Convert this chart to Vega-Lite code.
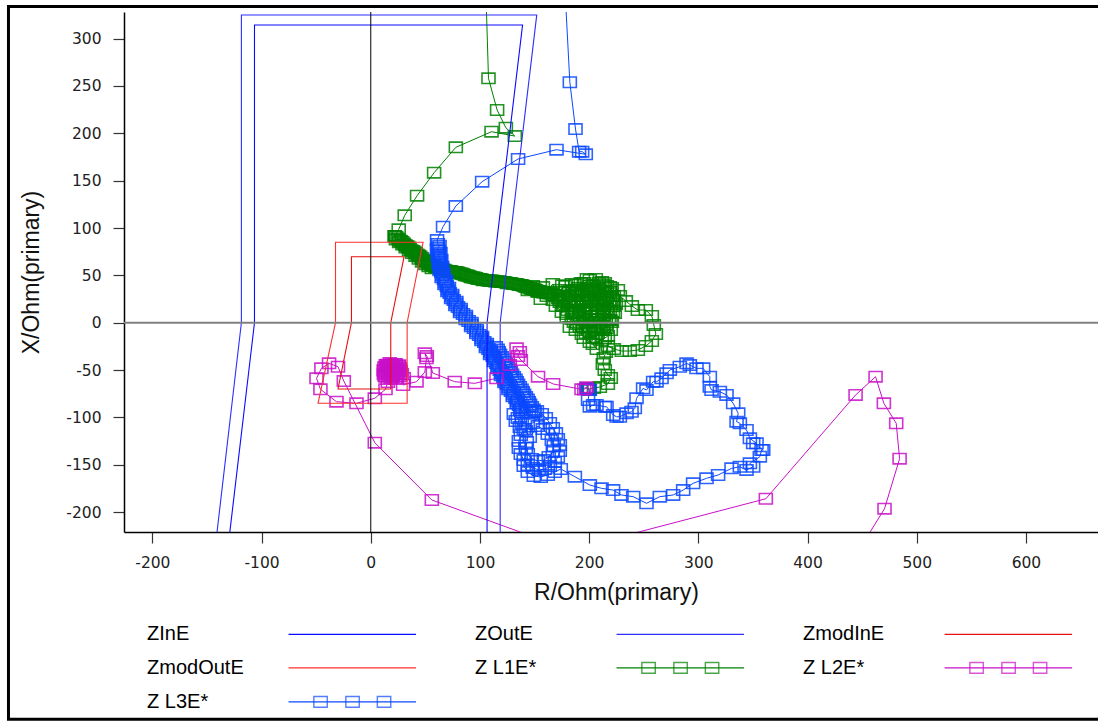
{
  "$schema": "https://vega.github.io/schema/vega-lite/v6.json",
  "width": 974,
  "height": 520,
  "autosize": {"type": "none"},
  "padding": {"left": 124, "top": 12, "right": 0, "bottom": 190},
  "background": "white",
  "config": {"view": {"stroke": null}},
  "datasets": {
    "bounds": [
      {"s":"ZInE","r":-130,"x":-230},{"s":"ZInE","r":-106.5,"x":0},{"s":"ZInE","r":-106.5,"x":314.4},{"s":"ZInE","r":139,"x":314.4},{"s":"ZInE","r":106.5,"x":0},{"s":"ZInE","r":106.5,"x":-230},
      {"s":"ZOutE","r":-141.7,"x":-230},{"s":"ZOutE","r":-118.5,"x":0},{"s":"ZOutE","r":-118.5,"x":325},{"s":"ZOutE","r":152,"x":325},{"s":"ZOutE","r":118.5,"x":0},{"s":"ZOutE","r":118.5,"x":-230},
      {"s":"ZmodInE","r":-17.7,"x":0},{"s":"ZmodInE","r":-17.7,"x":69.7},{"s":"ZmodInE","r":30.5,"x":69.7},{"s":"ZmodInE","r":18.3,"x":0},{"s":"ZmodInE","r":18.3,"x":-70},{"s":"ZmodInE","r":-30,"x":-70},{"s":"ZmodInE","r":-17.7,"x":0},
      {"s":"ZmodOutE","r":-32.3,"x":0},{"s":"ZmodOutE","r":-32.3,"x":84.9},{"s":"ZmodOutE","r":47.9,"x":84.9},{"s":"ZmodOutE","r":33.3,"x":0},{"s":"ZmodOutE","r":33.3,"x":-85.1},{"s":"ZmodOutE","r":-48.3,"x":-85.1},{"s":"ZmodOutE","r":-32.3,"x":0}
    ],
    "traj": [
      {"s":"Z L1E*","r":105.8,"x":334.5},{"s":"Z L1E*","r":107.8,"x":258.1},{"s":"Z L1E*","r":115.7,"x":224.6},{"s":"Z L1E*","r":123.7,"x":205.9},{"s":"Z L1E*","r":131.9,"x":197.1},{"s":"Z L1E*","r":110.6,"x":201.7},{"s":"Z L1E*","r":77.9,"x":185.2},{"s":"Z L1E*","r":58.0,"x":158.4},{"s":"Z L1E*","r":42.4,"x":134.1},{"s":"Z L1E*","r":31.1,"x":113.4},{"s":"Z L1E*","r":25.6,"x":98.6},
      {"s":"Z L1E*","r":22.0,"x":91.6},{"s":"Z L1E*","r":23.0,"x":88.0},{"s":"Z L1E*","r":26.0,"x":85.0},{"s":"Z L1E*","r":29.0,"x":82.5},{"s":"Z L1E*","r":32.0,"x":79.5},{"s":"Z L1E*","r":35.0,"x":76.5},{"s":"Z L1E*","r":38.0,"x":73.5},{"s":"Z L1E*","r":41.0,"x":70.5},{"s":"Z L1E*","r":44.0,"x":67.5},{"s":"Z L1E*","r":47.0,"x":64.5},{"s":"Z L1E*","r":50.0,"x":61.8},{"s":"Z L1E*","r":53.0,"x":59.5},{"s":"Z L1E*","r":56.0,"x":57.5},{"s":"Z L1E*","r":22.0,"x":91.6},
      {"s":"Z L1E*","r":23.3,"x":90.6},{"s":"Z L1E*","r":24.7,"x":88.9},{"s":"Z L1E*","r":26.1,"x":87.2},{"s":"Z L1E*","r":27.5,"x":86.3},{"s":"Z L1E*","r":28.8,"x":85.3},{"s":"Z L1E*","r":30.2,"x":83.6},{"s":"Z L1E*","r":31.6,"x":82.0},{"s":"Z L1E*","r":33.0,"x":81.0},{"s":"Z L1E*","r":34.3,"x":80.1},{"s":"Z L1E*","r":35.7,"x":78.4},{"s":"Z L1E*","r":37.1,"x":76.6},{"s":"Z L1E*","r":38.5,"x":75.7},{"s":"Z L1E*","r":39.8,"x":75.0},{"s":"Z L1E*","r":41.2,"x":73.6},{"s":"Z L1E*","r":42.6,"x":72.0},{"s":"Z L1E*","r":44.0,"x":71.0},{"s":"Z L1E*","r":45.3,"x":70.0},{"s":"Z L1E*","r":46.7,"x":68.3},{"s":"Z L1E*","r":48.1,"x":66.6},{"s":"Z L1E*","r":49.5,"x":65.7},{"s":"Z L1E*","r":50.8,"x":64.7},{"s":"Z L1E*","r":52.2,"x":63.0},{"s":"Z L1E*","r":53.6,"x":61.8},{"s":"Z L1E*","r":55.0,"x":61.5},{"s":"Z L1E*","r":56.3,"x":61.0},{"s":"Z L1E*","r":57.7,"x":59.9},{"s":"Z L1E*","r":59.1,"x":58.8},{"s":"Z L1E*","r":60.5,"x":58.3},{"s":"Z L1E*","r":61.8,"x":58.1},{"s":"Z L1E*","r":63.2,"x":57.2},{"s":"Z L1E*","r":64.6,"x":56.3},{"s":"Z L1E*","r":66.0,"x":56.2},{"s":"Z L1E*","r":67.3,"x":56.0},{"s":"Z L1E*","r":68.7,"x":55.1},{"s":"Z L1E*","r":70.0,"x":54.5},{"s":"Z L1E*","r":71.4,"x":54.6},{"s":"Z L1E*","r":72.8,"x":54.7},{"s":"Z L1E*","r":74.2,"x":54.1},{"s":"Z L1E*","r":75.5,"x":53.4},{"s":"Z L1E*","r":76.9,"x":53.5},{"s":"Z L1E*","r":78.3,"x":53.6},{"s":"Z L1E*","r":79.7,"x":53.0},{"s":"Z L1E*","r":81.0,"x":52.1},{"s":"Z L1E*","r":82.4,"x":52.0},{"s":"Z L1E*","r":83.8,"x":51.8},{"s":"Z L1E*","r":85.2,"x":50.9},{"s":"Z L1E*","r":86.5,"x":50.0},{"s":"Z L1E*","r":87.9,"x":49.8},{"s":"Z L1E*","r":89.3,"x":49.6},{"s":"Z L1E*","r":90.7,"x":48.8},{"s":"Z L1E*","r":92.0,"x":47.9},{"s":"Z L1E*","r":93.4,"x":47.7},{"s":"Z L1E*","r":94.8,"x":47.8},{"s":"Z L1E*","r":96.2,"x":47.2},{"s":"Z L1E*","r":97.5,"x":46.3},{"s":"Z L1E*","r":98.9,"x":46.1},{"s":"Z L1E*","r":100.3,"x":46.2},{"s":"Z L1E*","r":101.7,"x":45.6},{"s":"Z L1E*","r":103.0,"x":44.9},{"s":"Z L1E*","r":104.4,"x":45.1},{"s":"Z L1E*","r":105.8,"x":45.2},{"s":"Z L1E*","r":107.2,"x":44.6},{"s":"Z L1E*","r":108.5,"x":44.2},{"s":"Z L1E*","r":109.9,"x":44.6},{"s":"Z L1E*","r":111.3,"x":44.7},{"s":"Z L1E*","r":112.7,"x":44.0},{"s":"Z L1E*","r":114.0,"x":43.4},{"s":"Z L1E*","r":115.4,"x":43.5},{"s":"Z L1E*","r":116.8,"x":43.9},{"s":"Z L1E*","r":118.2,"x":43.5},{"s":"Z L1E*","r":119.5,"x":42.9},{"s":"Z L1E*","r":120.9,"x":43.0},{"s":"Z L1E*","r":122.3,"x":43.1},{"s":"Z L1E*","r":123.7,"x":42.5},{"s":"Z L1E*","r":125.0,"x":41.8},{"s":"Z L1E*","r":126.4,"x":41.9},{"s":"Z L1E*","r":127.8,"x":42.0},{"s":"Z L1E*","r":129.2,"x":41.4},{"s":"Z L1E*","r":130.5,"x":40.8},{"s":"Z L1E*","r":131.9,"x":40.9},{"s":"Z L1E*","r":133.3,"x":41.0},{"s":"Z L1E*","r":134.7,"x":40.3},{"s":"Z L1E*","r":136.0,"x":39.7},{"s":"Z L1E*","r":137.4,"x":39.8},{"s":"Z L1E*","r":138.8,"x":39.6},{"s":"Z L1E*","r":140.1,"x":38.8},{"s":"Z L1E*","r":141.5,"x":37.9},{"s":"Z L1E*","r":142.9,"x":37.7},{"s":"Z L1E*","r":144.3,"x":37.4},{"s":"Z L1E*","r":145.6,"x":36.6},{"s":"Z L1E*","r":147.0,"x":35.8},{"s":"Z L1E*","r":148.4,"x":35.6},{"s":"Z L1E*","r":149.8,"x":35.3},{"s":"Z L1E*","r":151.1,"x":34.5},{"s":"Z L1E*","r":152.5,"x":33.7},{"s":"Z L1E*","r":153.9,"x":33.5},{"s":"Z L1E*","r":155.3,"x":33.2},{"s":"Z L1E*","r":156.6,"x":32.4},{"s":"Z L1E*","r":158.0,"x":31.8},{"s":"Z L1E*","r":159.4,"x":31.9},{"s":"Z L1E*","r":160.8,"x":31.9},{"s":"Z L1E*","r":162.1,"x":31.4},{"s":"Z L1E*","r":163.5,"x":30.8},{"s":"Z L1E*","r":164.9,"x":30.8},
      {"s":"Z L1E*","r":175.3,"x":39.5},{"s":"Z L1E*","r":187.5,"x":40.2},{"s":"Z L1E*","r":200.9,"x":39.4},{"s":"Z L1E*","r":213.1,"x":40.1},{"s":"Z L1E*","r":181.7,"x":32.0},{"s":"Z L1E*","r":194.0,"x":32.8},{"s":"Z L1E*","r":207.3,"x":32.1},{"s":"Z L1E*","r":219.5,"x":32.7},{"s":"Z L1E*","r":174.7,"x":25.3},{"s":"Z L1E*","r":188.1,"x":24.6},{"s":"Z L1E*","r":200.3,"x":25.4},{"s":"Z L1E*","r":213.7,"x":24.7},{"s":"Z L1E*","r":181.1,"x":17.9},{"s":"Z L1E*","r":194.5,"x":17.2},{"s":"Z L1E*","r":206.7,"x":17.9},{"s":"Z L1E*","r":220.1,"x":17.3},{"s":"Z L1E*","r":188.0,"x":10.5},{"s":"Z L1E*","r":200.4,"x":9.8},{"s":"Z L1E*","r":213.6,"x":10.4},{"s":"Z L1E*","r":194.5,"x":2.6},{"s":"Z L1E*","r":206.8,"x":3.2},{"s":"Z L1E*","r":219.6,"x":2.5},{"s":"Z L1E*","r":200.8,"x":-4.2},{"s":"Z L1E*","r":213.2,"x":-4.8},
      {"s":"Z L1E*","r":143.8,"x":34.4},{"s":"Z L1E*","r":148.4,"x":38.7},{"s":"Z L1E*","r":153.0,"x":32.4},{"s":"Z L1E*","r":157.6,"x":37.6},{"s":"Z L1E*","r":161.2,"x":28.2},{"s":"Z L1E*","r":155.7,"x":25.0},{"s":"Z L1E*","r":166.7,"x":40.9},{"s":"Z L1E*","r":171.3,"x":26.1},{"s":"Z L1E*","r":175.9,"x":17.6},{"s":"Z L1E*","r":179.5,"x":9.2},{"s":"Z L1E*","r":184.1,"x":3.9},{"s":"Z L1E*","r":192.4,"x":41.9},{"s":"Z L1E*","r":197.9,"x":46.2},{"s":"Z L1E*","r":208.8,"x":42.0},{"s":"Z L1E*","r":214.3,"x":42.0},{"s":"Z L1E*","r":218.9,"x":37.7},{"s":"Z L1E*","r":221.7,"x":23.9},{"s":"Z L1E*","r":223.5,"x":10.3},{"s":"Z L1E*","r":220.8,"x":0.7},{"s":"Z L1E*","r":216.2,"x":-5.6},{"s":"Z L1E*","r":207.9,"x":-7.7},{"s":"Z L1E*","r":203.4,"x":-15.1},{"s":"Z L1E*","r":197.0,"x":-10.9},{"s":"Z L1E*","r":191.4,"x":-4.6},{"s":"Z L1E*","r":186.9,"x":11.3},{"s":"Z L1E*","r":180.5,"x":21.9},{"s":"Z L1E*","r":194.2,"x":28.2},{"s":"Z L1E*","r":200.6,"x":21.9},{"s":"Z L1E*","r":206.1,"x":14.5},{"s":"Z L1E*","r":212.5,"x":13.4},{"s":"Z L1E*","r":209.8,"x":24.0},{"s":"Z L1E*","r":216.2,"x":21.9},{"s":"Z L1E*","r":202.4,"x":34.5},{"s":"Z L1E*","r":188.7,"x":34.5},{"s":"Z L1E*","r":182.3,"x":28.2},{"s":"Z L1E*","r":173.1,"x":21.9},
      {"s":"Z L1E*","r":164.0,"x":32.4},{"s":"Z L1E*","r":166.7,"x":24.0},{"s":"Z L1E*","r":171.3,"x":28.2},{"s":"Z L1E*","r":175.9,"x":32.4},{"s":"Z L1E*","r":181.4,"x":32.4},{"s":"Z L1E*","r":186.9,"x":34.5},{"s":"Z L1E*","r":192.4,"x":32.4},{"s":"Z L1E*","r":197.9,"x":36.6},{"s":"Z L1E*","r":203.4,"x":38.8},{"s":"Z L1E*","r":208.8,"x":36.6},{"s":"Z L1E*","r":214.3,"x":33.5},{"s":"Z L1E*","r":212.5,"x":27.1},{"s":"Z L1E*","r":207.0,"x":25.0},{"s":"Z L1E*","r":201.5,"x":14.5},{"s":"Z L1E*","r":196.0,"x":11.3},{"s":"Z L1E*","r":190.5,"x":19.7},{"s":"Z L1E*","r":185.0,"x":10.2},{"s":"Z L1E*","r":179.5,"x":6.0},{"s":"Z L1E*","r":188.7,"x":-1.4},{"s":"Z L1E*","r":194.2,"x":-3.5},{"s":"Z L1E*","r":199.7,"x":0.7},{"s":"Z L1E*","r":205.2,"x":3.9},{"s":"Z L1E*","r":210.7,"x":-3.5},{"s":"Z L1E*","r":216.2,"x":14.5},{"s":"Z L1E*","r":220.8,"x":28.2},{"s":"Z L1E*","r":197.9,"x":24.0},{"s":"Z L1E*","r":205.2,"x":30.4},{"s":"Z L1E*","r":177.7,"x":26.1},{"s":"Z L1E*","r":183.2,"x":17.6},{"s":"Z L1E*","r":208.8,"x":7.1},{"s":"Z L1E*","r":214.3,"x":-16.2},{"s":"Z L1E*","r":203.4,"x":-22.5},{"s":"Z L1E*","r":207.0,"x":-27.8},
      {"s":"Z L1E*","r":168.5,"x":29.3},{"s":"Z L1E*","r":173.1,"x":34.6},{"s":"Z L1E*","r":178.6,"x":38.7},{"s":"Z L1E*","r":184.1,"x":40.9},{"s":"Z L1E*","r":189.6,"x":36.6},{"s":"Z L1E*","r":195.1,"x":41.9},{"s":"Z L1E*","r":200.6,"x":45.1},{"s":"Z L1E*","r":206.1,"x":46.2},{"s":"Z L1E*","r":211.6,"x":43.0},{"s":"Z L1E*","r":216.2,"x":38.8},{"s":"Z L1E*","r":218.9,"x":32.4},{"s":"Z L1E*","r":215.3,"x":26.1},{"s":"Z L1E*","r":209.8,"x":29.3},{"s":"Z L1E*","r":204.3,"x":33.5},{"s":"Z L1E*","r":198.8,"x":28.2},{"s":"Z L1E*","r":193.3,"x":24.0},{"s":"Z L1E*","r":187.8,"x":28.2},{"s":"Z L1E*","r":182.3,"x":24.0},{"s":"Z L1E*","r":176.8,"x":18.7},{"s":"Z L1E*","r":173.1,"x":24.0},{"s":"Z L1E*","r":169.5,"x":17.6},{"s":"Z L1E*","r":175.0,"x":11.3},{"s":"Z L1E*","r":180.5,"x":13.4},{"s":"Z L1E*","r":186.0,"x":17.6},{"s":"Z L1E*","r":191.4,"x":13.4},{"s":"Z L1E*","r":196.9,"x":17.6},{"s":"Z L1E*","r":202.4,"x":21.9},{"s":"Z L1E*","r":207.9,"x":17.6},{"s":"Z L1E*","r":213.4,"x":19.7},{"s":"Z L1E*","r":218.9,"x":24.0},{"s":"Z L1E*","r":222.6,"x":17.6},{"s":"Z L1E*","r":218.9,"x":11.3},{"s":"Z L1E*","r":213.4,"x":7.1},{"s":"Z L1E*","r":207.9,"x":11.3},{"s":"Z L1E*","r":202.4,"x":7.1},{"s":"Z L1E*","r":196.9,"x":2.9},{"s":"Z L1E*","r":191.4,"x":5.0},{"s":"Z L1E*","r":186.0,"x":0.7},{"s":"Z L1E*","r":182.3,"x":-4.6},{"s":"Z L1E*","r":187.8,"x":-7.7},{"s":"Z L1E*","r":193.3,"x":-11.9},{"s":"Z L1E*","r":198.8,"x":-7.7},{"s":"Z L1E*","r":204.3,"x":-3.5},{"s":"Z L1E*","r":209.8,"x":0.7},{"s":"Z L1E*","r":215.3,"x":-1.4},{"s":"Z L1E*","r":219.8,"x":-7.7},{"s":"Z L1E*","r":217.1,"x":-14.1},{"s":"Z L1E*","r":211.6,"x":-18.3},{"s":"Z L1E*","r":206.1,"x":-16.2},{"s":"Z L1E*","r":200.6,"x":-20.4},{"s":"Z L1E*","r":195.1,"x":-16.2},{"s":"Z L1E*","r":200.6,"x":-9.8},{"s":"Z L1E*","r":207.0,"x":-11.9},{"s":"Z L1E*","r":212.5,"x":-7.7},{"s":"Z L1E*","r":218.0,"x":2.9},{"s":"Z L1E*","r":221.7,"x":11.3},{"s":"Z L1E*","r":224.4,"x":19.7},{"s":"Z L1E*","r":222.6,"x":28.2},{"s":"Z L1E*","r":226.3,"x":34.6},{"s":"Z L1E*","r":220.7,"x":36.7},
      {"s":"Z L1E*","r":228.1,"x":28.2},{"s":"Z L1E*","r":233.6,"x":22.9},{"s":"Z L1E*","r":239.1,"x":17.6},{"s":"Z L1E*","r":244.6,"x":13.4},{"s":"Z L1E*","r":251.9,"x":13.4},{"s":"Z L1E*","r":257.4,"x":7.1},{"s":"Z L1E*","r":259.2,"x":-2.4},{"s":"Z L1E*","r":261.1,"x":-11.9},{"s":"Z L1E*","r":257.4,"x":-19.3},{"s":"Z L1E*","r":251.9,"x":-24.6},{"s":"Z L1E*","r":244.6,"x":-28.8},{"s":"Z L1E*","r":237.2,"x":-29.9},{"s":"Z L1E*","r":229.9,"x":-29.9},{"s":"Z L1E*","r":222.6,"x":-27.8},{"s":"Z L1E*","r":217.1,"x":-24.6},{"s":"Z L1E*","r":215.3,"x":-30.9},{"s":"Z L1E*","r":213.4,"x":-37.3},{"s":"Z L1E*","r":212.5,"x":-43.6},{"s":"Z L1E*","r":214.3,"x":-49.9},{"s":"Z L1E*","r":217.1,"x":-55.2},{"s":"Z L1E*","r":219.8,"x":-58.4},{"s":"Z L1E*","r":217.1,"x":-64.7},{"s":"Z L1E*","r":209.8,"x":-67.9},{"s":"Z L1E*","r":204.3,"x":-69.0},{"s":"Z L1E*","r":199.7,"x":-70.0},{"s":"Z L1E*","r":198.5,"x":-69.0},{"s":"Z L1E*","r":200.2,"x":-70.8},

      {"s":"Z L3E*","r":178.6,"x":335.5},{"s":"Z L3E*","r":182.3,"x":253.9},{"s":"Z L3E*","r":187.5,"x":204.5},{"s":"Z L3E*","r":190.8,"x":180.6},{"s":"Z L3E*","r":193.6,"x":180.6},{"s":"Z L3E*","r":196.9,"x":177.8},{"s":"Z L3E*","r":170.1,"x":182.7},{"s":"Z L3E*","r":134.9,"x":172.9},{"s":"Z L3E*","r":102.0,"x":148.9},{"s":"Z L3E*","r":77.9,"x":123.2},{"s":"Z L3E*","r":66.2,"x":101.4},{"s":"Z L3E*","r":60.7,"x":87.3},
      {"s":"Z L3E*","r":61.4,"x":83.1},{"s":"Z L3E*","r":63.0,"x":81.25},{"s":"Z L3E*","r":61.7,"x":79.4},{"s":"Z L3E*","r":60.6,"x":77.55},{"s":"Z L3E*","r":62.2,"x":75.7},{"s":"Z L3E*","r":63.8,"x":73.85},{"s":"Z L3E*","r":62.6,"x":72.0},{"s":"Z L3E*","r":61.4,"x":70.15},{"s":"Z L3E*","r":63.0,"x":68.3},{"s":"Z L3E*","r":64.6,"x":66.45},{"s":"Z L3E*","r":63.4,"x":64.6},{"s":"Z L3E*","r":62.2,"x":62.75},{"s":"Z L3E*","r":63.8,"x":60.9},{"s":"Z L3E*","r":65.4,"x":59.05},{"s":"Z L3E*","r":64.2,"x":57.2},{"s":"Z L3E*","r":63.0,"x":55.35},{"s":"Z L3E*","r":64.7,"x":53.5},{"s":"Z L3E*","r":66.5,"x":51.65},{"s":"Z L3E*","r":65.6,"x":49.8},{"s":"Z L3E*","r":64.9,"x":47.95},{"s":"Z L3E*","r":67.0,"x":46.1},{"s":"Z L3E*","r":69.0,"x":44.3},{"s":"Z L3E*","r":68.2,"x":42.5},{"s":"Z L3E*","r":67.5,"x":40.65},{"s":"Z L3E*","r":69.6,"x":38.8},{"s":"Z L3E*","r":71.6,"x":36.95},{"s":"Z L3E*","r":70.9,"x":35.1},{"s":"Z L3E*","r":70.2,"x":33.25},{"s":"Z L3E*","r":72.3,"x":31.4},{"s":"Z L3E*","r":74.6,"x":29.55},{"s":"Z L3E*","r":74.1,"x":27.7},{"s":"Z L3E*","r":73.6,"x":25.85},{"s":"Z L3E*","r":76.0,"x":24.0},{"s":"Z L3E*","r":78.4,"x":22.15},{"s":"Z L3E*","r":78.0,"x":20.3},{"s":"Z L3E*","r":77.5,"x":18.45},{"s":"Z L3E*","r":79.9,"x":16.6},{"s":"Z L3E*","r":82.3,"x":14.75},{"s":"Z L3E*","r":81.9,"x":12.9},{"s":"Z L3E*","r":81.8,"x":11.05},{"s":"Z L3E*","r":84.5,"x":9.2},{"s":"Z L3E*","r":87.1,"x":7.35},{"s":"Z L3E*","r":87.0,"x":5.5},{"s":"Z L3E*","r":86.9,"x":3.65},{"s":"Z L3E*","r":89.6,"x":1.8},{"s":"Z L3E*","r":92.2,"x":-0.05},{"s":"Z L3E*","r":92.1,"x":-1.9},{"s":"Z L3E*","r":91.9,"x":-3.75},{"s":"Z L3E*","r":94.5,"x":-5.6},{"s":"Z L3E*","r":97.1,"x":-7.45},{"s":"Z L3E*","r":96.9,"x":-9.3},{"s":"Z L3E*","r":96.7,"x":-11.15},{"s":"Z L3E*","r":99.3,"x":-13.0},{"s":"Z L3E*","r":101.9,"x":-14.85},{"s":"Z L3E*","r":101.7,"x":-16.7},{"s":"Z L3E*","r":101.4,"x":-18.55},{"s":"Z L3E*","r":104.0,"x":-20.4},{"s":"Z L3E*","r":106.3,"x":-22.25},{"s":"Z L3E*","r":105.9,"x":-24.1},{"s":"Z L3E*","r":105.4,"x":-25.95},{"s":"Z L3E*","r":107.8,"x":-27.8},{"s":"Z L3E*","r":110.1,"x":-29.65},{"s":"Z L3E*","r":109.7,"x":-31.5},{"s":"Z L3E*","r":109.3,"x":-33.35},{"s":"Z L3E*","r":111.7,"x":-35.2},{"s":"Z L3E*","r":113.9,"x":-37.05},{"s":"Z L3E*","r":113.4,"x":-38.9},{"s":"Z L3E*","r":112.8,"x":-40.75},{"s":"Z L3E*","r":115.0,"x":-42.6},{"s":"Z L3E*","r":117.2,"x":-44.45},{"s":"Z L3E*","r":116.6,"x":-46.3},{"s":"Z L3E*","r":116.0,"x":-48.1},{"s":"Z L3E*","r":118.2,"x":-49.9},{"s":"Z L3E*","r":120.4,"x":-51.75},{"s":"Z L3E*","r":119.8,"x":-53.6},{"s":"Z L3E*","r":119.2,"x":-55.45},{"s":"Z L3E*","r":121.4,"x":-57.3},{"s":"Z L3E*","r":123.6,"x":-59.15},{"s":"Z L3E*","r":123.0,"x":-61.0},{"s":"Z L3E*","r":122.4,"x":-62.85},{"s":"Z L3E*","r":124.6,"x":-64.7},{"s":"Z L3E*","r":126.9,"x":-66.55},{"s":"Z L3E*","r":126.4,"x":-68.4},{"s":"Z L3E*","r":126.0,"x":-70.25},{"s":"Z L3E*","r":128.4,"x":-72.1},{"s":"Z L3E*","r":130.8,"x":-73.95},{"s":"Z L3E*","r":130.4,"x":-75.8},{"s":"Z L3E*","r":130.0,"x":-77.65},{"s":"Z L3E*","r":132.5,"x":-79.5},{"s":"Z L3E*","r":134.7,"x":-81.35},{"s":"Z L3E*","r":134.2,"x":-83.2},{"s":"Z L3E*","r":133.6,"x":-85.05},{"s":"Z L3E*","r":135.8,"x":-86.9},{"s":"Z L3E*","r":138.0,"x":-88.75},{"s":"Z L3E*","r":137.4,"x":-90.6},{"s":"Z L3E*","r":136.8,"x":-92.45},{"s":"Z L3E*","r":139.0,"x":-94.3},
      {"s":"Z L3E*","r":114.5,"x":-25.7},{"s":"Z L3E*","r":116.2,"x":-28.4},{"s":"Z L3E*","r":117.2,"x":-31.0},{"s":"Z L3E*","r":118.4,"x":-33.6},{"s":"Z L3E*","r":120.0,"x":-36.3},{"s":"Z L3E*","r":121.6,"x":-38.9},{"s":"Z L3E*","r":122.7,"x":-41.5},{"s":"Z L3E*","r":123.9,"x":-44.1},{"s":"Z L3E*","r":125.5,"x":-46.8},{"s":"Z L3E*","r":127.1,"x":-49.5},{"s":"Z L3E*","r":128.2,"x":-52.1},{"s":"Z L3E*","r":129.4,"x":-54.8},{"s":"Z L3E*","r":131.0,"x":-57.4},{"s":"Z L3E*","r":132.6,"x":-60.0},{"s":"Z L3E*","r":133.7,"x":-62.6},{"s":"Z L3E*","r":134.9,"x":-65.2},{"s":"Z L3E*","r":136.5,"x":-67.9},{"s":"Z L3E*","r":138.1,"x":-70.6},{"s":"Z L3E*","r":139.2,"x":-73.2},{"s":"Z L3E*","r":140.4,"x":-75.9},{"s":"Z L3E*","r":142.0,"x":-78.5},{"s":"Z L3E*","r":143.6,"x":-81.1},{"s":"Z L3E*","r":144.7,"x":-83.7},{"s":"Z L3E*","r":145.9,"x":-86.4},{"s":"Z L3E*","r":147.5,"x":-89.0},{"s":"Z L3E*","r":149.1,"x":-91.7},{"s":"Z L3E*","r":150.2,"x":-94.3},
      {"s":"Z L3E*","r":142.0,"x":-92.2},{"s":"Z L3E*","r":146.6,"x":-94.3},{"s":"Z L3E*","r":152.1,"x":-93.2},{"s":"Z L3E*","r":131.0,"x":-96.4},{"s":"Z L3E*","r":132.8,"x":-103.8},{"s":"Z L3E*","r":136.5,"x":-110.2},{"s":"Z L3E*","r":134.7,"x":-100.6},{"s":"Z L3E*","r":138.3,"x":-105.9},{"s":"Z L3E*","r":143.8,"x":-107.0},{"s":"Z L3E*","r":148.4,"x":-105.9},{"s":"Z L3E*","r":156.6,"x":-96.4},{"s":"Z L3E*","r":160.3,"x":-100.6},{"s":"Z L3E*","r":164.0,"x":-105.9},{"s":"Z L3E*","r":166.7,"x":-111.2},{"s":"Z L3E*","r":169.5,"x":-116.5},{"s":"Z L3E*","r":171.3,"x":-122.8},{"s":"Z L3E*","r":173.1,"x":-129.1},{"s":"Z L3E*","r":173.1,"x":-135.5},{"s":"Z L3E*","r":171.3,"x":-141.8},{"s":"Z L3E*","r":168.5,"x":-147.1},{"s":"Z L3E*","r":164.0,"x":-151.3},{"s":"Z L3E*","r":159.4,"x":-154.5},{"s":"Z L3E*","r":153.9,"x":-155.5},{"s":"Z L3E*","r":148.4,"x":-153.4},{"s":"Z L3E*","r":143.8,"x":-150.3},{"s":"Z L3E*","r":140.1,"x":-145.0},{"s":"Z L3E*","r":137.4,"x":-138.7},{"s":"Z L3E*","r":135.6,"x":-132.3},{"s":"Z L3E*","r":135.6,"x":-124.9},{"s":"Z L3E*","r":137.4,"x":-118.6},{"s":"Z L3E*","r":140.1,"x":-112.3},{"s":"Z L3E*","r":142.0,"x":-114.4},{"s":"Z L3E*","r":145.6,"x":-120.7},{"s":"Z L3E*","r":153.0,"x":-109.1},{"s":"Z L3E*","r":157.6,"x":-112.3},{"s":"Z L3E*","r":162.1,"x":-117.5},{"s":"Z L3E*","r":165.8,"x":-123.9},{"s":"Z L3E*","r":167.6,"x":-130.2},{"s":"Z L3E*","r":166.7,"x":-136.5},{"s":"Z L3E*","r":163.0,"x":-141.8},{"s":"Z L3E*","r":158.5,"x":-145.0},{"s":"Z L3E*","r":153.0,"x":-146.0},{"s":"Z L3E*","r":147.5,"x":-143.9},{"s":"Z L3E*","r":143.8,"x":-138.7},{"s":"Z L3E*","r":142.0,"x":-132.3},{"s":"Z L3E*","r":142.9,"x":-126.0},{"s":"Z L3E*","r":140.1,"x":-151.3},{"s":"Z L3E*","r":143.8,"x":-157.7},{"s":"Z L3E*","r":149.3,"x":-161.9},{"s":"Z L3E*","r":155.7,"x":-162.9},{"s":"Z L3E*","r":162.1,"x":-160.8},{"s":"Z L3E*","r":168.5,"x":-157.7},{"s":"Z L3E*","r":174.0,"x":-154.5},
      {"s":"Z L3E*","r":186.9,"x":-162.6},{"s":"Z L3E*","r":200.6,"x":-171.4},{"s":"Z L3E*","r":211.3,"x":-174.9},{"s":"Z L3E*","r":221.9,"x":-176.7},{"s":"Z L3E*","r":229.6,"x":-181.9},{"s":"Z L3E*","r":240.3,"x":-183.7},{"s":"Z L3E*","r":252.5,"x":-190.7},{"s":"Z L3E*","r":264.7,"x":-183.7},{"s":"Z L3E*","r":276.9,"x":-181.9},{"s":"Z L3E*","r":286.1,"x":-176.7},{"s":"Z L3E*","r":295.2,"x":-169.6},{"s":"Z L3E*","r":307.5,"x":-164.3},{"s":"Z L3E*","r":318.1,"x":-160.8},{"s":"Z L3E*","r":330.4,"x":-153.8},{"s":"Z L3E*","r":338.0,"x":-152.1},{"s":"Z L3E*","r":344.1,"x":-155.5},{"s":"Z L3E*","r":350.2,"x":-152.1},{"s":"Z L3E*","r":347.2,"x":-148.5},{"s":"Z L3E*","r":356.3,"x":-141.5},{"s":"Z L3E*","r":357.9,"x":-134.4},{"s":"Z L3E*","r":359.4,"x":-134.4},{"s":"Z L3E*","r":350.2,"x":-127.4},{"s":"Z L3E*","r":353.3,"x":-127.4},{"s":"Z L3E*","r":347.2,"x":-122.1},{"s":"Z L3E*","r":344.1,"x":-113.3},{"s":"Z L3E*","r":338.0,"x":-106.2},{"s":"Z L3E*","r":335.0,"x":-104.5},{"s":"Z L3E*","r":336.5,"x":-95.7},{"s":"Z L3E*","r":331.9,"x":-85.1},{"s":"Z L3E*","r":325.8,"x":-76.3},{"s":"Z L3E*","r":319.7,"x":-72.9},{"s":"Z L3E*","r":312.1,"x":-71.1},{"s":"Z L3E*","r":310.5,"x":-67.6},{"s":"Z L3E*","r":310.5,"x":-57.0},{"s":"Z L3E*","r":304.4,"x":-48.2},{"s":"Z L3E*","r":298.3,"x":-48.2},{"s":"Z L3E*","r":292.2,"x":-44.7},{"s":"Z L3E*","r":289.2,"x":-42.9},{"s":"Z L3E*","r":283.0,"x":-46.5},{"s":"Z L3E*","r":273.9,"x":-49.9},{"s":"Z L3E*","r":270.9,"x":-53.4},{"s":"Z L3E*","r":266.3,"x":-58.7},{"s":"Z L3E*","r":261.7,"x":-62.3},{"s":"Z L3E*","r":258.6,"x":-62.3},{"s":"Z L3E*","r":252.5,"x":-71.1},{"s":"Z L3E*","r":249.4,"x":-69.3},{"s":"Z L3E*","r":243.4,"x":-79.8},{"s":"Z L3E*","r":241.8,"x":-90.4},{"s":"Z L3E*","r":238.8,"x":-94.0},{"s":"Z L3E*","r":234.2,"x":-95.7},{"s":"Z L3E*","r":228.1,"x":-99.3},{"s":"Z L3E*","r":225.1,"x":-99.3},{"s":"Z L3E*","r":222.0,"x":-97.5},{"s":"Z L3E*","r":215.9,"x":-88.7},{"s":"Z L3E*","r":214.3,"x":-88.7},{"s":"Z L3E*","r":206.7,"x":-86.9},{"s":"Z L3E*","r":203.6,"x":-86.9},{"s":"Z L3E*","r":200.6,"x":-88.7},{"s":"Z L3E*","r":199.0,"x":-81.6},{"s":"Z L3E*","r":200.6,"x":-71.1},{"s":"Z L3E*","r":197.6,"x":-69.3},{"s":"Z L3E*","r":198.8,"x":-70.0},

      {"s":"Z L2E*","r":449.8,"x":-235.0},{"s":"Z L2E*","r":470.5,"x":-196.4},{"s":"Z L2E*","r":484.3,"x":-143.6},{"s":"Z L2E*","r":481.2,"x":-106.2},{"s":"Z L2E*","r":469.9,"x":-85.1},{"s":"Z L2E*","r":462.3,"x":-57.0},{"s":"Z L2E*","r":444.0,"x":-76.3},{"s":"Z L2E*","r":361.8,"x":-185.9},{"s":"Z L2E*","r":182.3,"x":-240.0},{"s":"Z L2E*","r":55.9,"x":-187.2},{"s":"Z L2E*","r":3.7,"x":-126.7},{"s":"Z L2E*","r":-24.7,"x":-61.6},{"s":"Z L2E*","r":-30.0,"x":-46.5},{"s":"Z L2E*","r":-38.2,"x":-42.9},{"s":"Z L2E*","r":-45.2,"x":-48.2},{"s":"Z L2E*","r":-49.7,"x":-58.7},{"s":"Z L2E*","r":-46.1,"x":-70.3},{"s":"Z L2E*","r":-31.4,"x":-83.4},{"s":"Z L2E*","r":-13.1,"x":-85.1},{"s":"Z L2E*","r":3.7,"x":-79.8},{"s":"Z L2E*","r":13.5,"x":-70.3},
      {"s":"Z L2E*","r":15.6,"x":-62.6},{"s":"Z L2E*","r":12.8,"x":-56.3},{"s":"Z L2E*","r":11.9,"x":-49.9},{"s":"Z L2E*","r":13.7,"x":-44.7},{"s":"Z L2E*","r":17.4,"x":-42.5},{"s":"Z L2E*","r":22.0,"x":-43.6},{"s":"Z L2E*","r":25.6,"x":-45.6},{"s":"Z L2E*","r":27.5,"x":-51.0},{"s":"Z L2E*","r":26.6,"x":-56.3},{"s":"Z L2E*","r":22.9,"x":-59.5},{"s":"Z L2E*","r":18.3,"x":-58.4},{"s":"Z L2E*","r":15.6,"x":-53.1},{"s":"Z L2E*","r":16.5,"x":-47.8},{"s":"Z L2E*","r":20.2,"x":-46.8},{"s":"Z L2E*","r":23.8,"x":-49.9},{"s":"Z L2E*","r":22.9,"x":-54.2},{"s":"Z L2E*","r":19.2,"x":-55.2},{"s":"Z L2E*","r":17.4,"x":-51.0},{"s":"Z L2E*","r":21.1,"x":-48.9},{"s":"Z L2E*","r":24.7,"x":-53.1},{"s":"Z L2E*","r":20.2,"x":-52.1},{"s":"Z L2E*","r":14.7,"x":-46.8},{"s":"Z L2E*","r":19.2,"x":-45.7},{"s":"Z L2E*","r":26.6,"x":-47.8},
      {"s":"Z L2E*","r":12.0,"x":-54.5},{"s":"Z L2E*","r":13.5,"x":-57.0},{"s":"Z L2E*","r":16.5,"x":-56.5},{"s":"Z L2E*","r":20.0,"x":-57.0},{"s":"Z L2E*","r":23.5,"x":-56.8},{"s":"Z L2E*","r":26.5,"x":-54.0},{"s":"Z L2E*","r":26.8,"x":-49.5},{"s":"Z L2E*","r":26.0,"x":-45.0},{"s":"Z L2E*","r":23.0,"x":-43.8},{"s":"Z L2E*","r":19.0,"x":-43.6},{"s":"Z L2E*","r":15.0,"x":-44.5},{"s":"Z L2E*","r":12.5,"x":-47.0},{"s":"Z L2E*","r":12.2,"x":-51.5},{"s":"Z L2E*","r":14.5,"x":-49.0},{"s":"Z L2E*","r":18.0,"x":-49.0},{"s":"Z L2E*","r":21.8,"x":-50.8},{"s":"Z L2E*","r":25.0,"x":-51.5},{"s":"Z L2E*","r":24.2,"x":-47.0},{"s":"Z L2E*","r":17.5,"x":-53.5},{"s":"Z L2E*","r":21.0,"x":-54.5},{"s":"Z L2E*","r":14.0,"x":-53.0},{"s":"Z L2E*","r":19.5,"x":-47.5},{"s":"Z L2E*","r":23.0,"x":-48.5},{"s":"Z L2E*","r":16.0,"x":-45.5},
      {"s":"Z L2E*","r":28.4,"x":-54.2},{"s":"Z L2E*","r":30.2,"x":-58.4},
      {"s":"Z L2E*","r":29.6,"x":-65.8},{"s":"Z L2E*","r":41.9,"x":-62.3},{"s":"Z L2E*","r":49.5,"x":-52.1},{"s":"Z L2E*","r":51.0,"x":-37.6},{"s":"Z L2E*","r":49.5,"x":-32.3},{"s":"Z L2E*","r":51.3,"x":-35.2},{"s":"Z L2E*","r":56.8,"x":-53.1},{"s":"Z L2E*","r":76.9,"x":-62.3},{"s":"Z L2E*","r":95.3,"x":-64.0},{"s":"Z L2E*","r":115.1,"x":-58.7},{"s":"Z L2E*","r":127.3,"x":-44.7},{"s":"Z L2E*","r":133.5,"x":-27.0},{"s":"Z L2E*","r":136.5,"x":-30.9},{"s":"Z L2E*","r":134.7,"x":-35.2},{"s":"Z L2E*","r":137.4,"x":-39.4},{"s":"Z L2E*","r":153.2,"x":-57.0},{"s":"Z L2E*","r":167.0,"x":-64.7},{"s":"Z L2E*","r":193.0,"x":-70.3},{"s":"Z L2E*","r":197.6,"x":-68.2},{"s":"Z L2E*","r":195.6,"x":-70.5}
    ],
    "legend": [
      {"s":"ZInE","lr":-204.9,"lx":-329.1,"m":false},
      {"s":"ZOutE","lr":95.5,"lx":-329.1,"m":false},
      {"s":"ZmodInE","lr":395.9,"lx":-329.1,"m":false},
      {"s":"ZmodOutE","lr":-204.9,"lx":-364.5,"m":false},
      {"s":"Z L1E*","lr":95.5,"lx":-364.5,"m":true},
      {"s":"Z L2E*","lr":395.9,"lx":-364.5,"m":true},
      {"s":"Z L3E*","lr":-204.9,"lx":-400.4,"m":true}
    ],
    "frame": [{"r1":-331.8,"r2":720,"x1":333.9,"x2":-418.8}],
    "zero": [{"z":0}]
  },
  "encoding": {
    "x": {"type": "quantitative", "scale": {"domain": [-226, 666], "nice": false, "zero": false}},
    "y": {"type": "quantitative", "scale": {"domain": [-221, 328.1], "nice": false, "zero": false}}
  },
  "layer": [
    {
      "data": {"name": "traj"},
      "mark": {"type": "line", "clip": true, "strokeWidth": 1},
      "encoding": {
        "x": {"field": "r", "type": "quantitative",
          "axis": {"title": "R/Ohm(primary)", "values": [-200,-100,0,100,200,300,400,500,600], "grid": false,
            "labelExpr": "'' + datum.value",
            "domainColor": "black", "domainWidth": 1.5, "tickColor": "#333", "tickSize": 11, "tickWidth": 1.2,
            "labelFont": "DejaVu Sans", "labelFontSize": 15.5, "labelColor": "#222", "labelPadding": 12, "labelFlush": false, "labelOverlap": false,
            "titleFont": "Liberation Sans", "titleFontSize": 23, "titleFontWeight": "normal", "titleColor": "#111",
            "titleX": 492, "titleY": 67, "titleBaseline": "alphabetic", "titleAlign": "center"}},
        "y": {"field": "x", "type": "quantitative",
          "axis": {"title": "X/Ohm(primary)", "values": [-200,-150,-100,-50,0,50,100,150,200,250,300], "grid": false,
            "labelExpr": "'' + datum.value",
            "domainColor": "black", "domainWidth": 1.5, "tickColor": "#333", "tickSize": 11, "tickWidth": 1.2,
            "labelFont": "DejaVu Sans", "labelFontSize": 15.5, "labelColor": "#222", "labelPadding": 12, "labelFlush": false, "labelOverlap": false,
            "titleFont": "Liberation Sans", "titleFontSize": 23, "titleFontWeight": "normal", "titleColor": "#111",
            "titleX": -86, "titleY": 260, "titleAngle": 270, "titleBaseline": "alphabetic", "titleAlign": "center"}},
        "color": {"field": "s", "type": "nominal", "legend": null,
          "scale": {"domain": ["ZInE","ZOutE","ZmodInE","ZmodOutE","Z L1E*","Z L2E*","Z L3E*"],
                    "range": ["#0a0aff","#2e2eff","#e81010","#ff3030","#008000","#c810c8","#0a48ff"]}},
        "order": {"value": null}
      }
    },
    {
      "data": {"name": "traj"},
      "mark": {"type": "point", "clip": true, "shape": "M-1,-0.8H1V0.8H-1Z", "size": 169, "filled": false, "strokeWidth": 1.6, "opacity": 0.85},
      "encoding": {
        "x": {"field": "r", "type": "quantitative"},
        "y": {"field": "x", "type": "quantitative"},
        "color": {"field": "s", "type": "nominal", "legend": null}
      }
    },
    {
      "data": {"name": "bounds"},
      "mark": {"type": "line", "clip": true, "strokeWidth": 1.1},
      "encoding": {
        "x": {"field": "r", "type": "quantitative"},
        "y": {"field": "x", "type": "quantitative"},
        "color": {"field": "s", "type": "nominal", "legend": null},
        "order": {"value": null}
      }
    },
    {
      "data": {"name": "zero"},
      "mark": {"type": "rule", "color": "black", "strokeWidth": 1},
      "encoding": {"x": {"field": "z", "type": "quantitative"}}
    },
    {
      "data": {"name": "zero"},
      "mark": {"type": "rule", "color": "#808080", "strokeWidth": 2},
      "encoding": {"y": {"field": "z", "type": "quantitative"}}
    },
    {
      "data": {"name": "frame"},
      "mark": {"type": "rect", "filled": false, "color": "black", "strokeWidth": 3},
      "encoding": {
        "x": {"field": "r1", "type": "quantitative"},
        "x2": {"field": "r2"},
        "y": {"field": "x1", "type": "quantitative"},
        "y2": {"field": "x2"}
      }
    },
    {
      "data": {"name": "legend"},
      "mark": {"type": "text", "align": "left", "baseline": "middle", "font": "Liberation Sans", "fontSize": 20, "color": "black"},
      "encoding": {
        "x": {"field": "lr", "type": "quantitative"},
        "y": {"field": "lx", "type": "quantitative"},
        "text": {"field": "s"}
      }
    },
    {
      "data": {"name": "legend"},
      "mark": {"type": "rule", "xOffset": 141.5, "x2Offset": 269, "strokeWidth": 1.3},
      "encoding": {
        "x": {"field": "lr", "type": "quantitative"},
        "x2": {"field": "lr"},
        "y": {"field": "lx", "type": "quantitative"},
        "color": {"field": "s", "type": "nominal", "legend": null}
      }
    },
    {
      "data": {"name": "legend"},
      "transform": [{"filter": "datum.m"}],
      "mark": {"type": "point", "shape": "M-1,-0.8H1V0.8H-1Z", "size": 180, "filled": false, "strokeWidth": 1.4, "xOffset": 173.5},
      "encoding": {
        "x": {"field": "lr", "type": "quantitative"},
        "y": {"field": "lx", "type": "quantitative"},
        "color": {"field": "s", "type": "nominal", "legend": null}
      }
    },
    {
      "data": {"name": "legend"},
      "transform": [{"filter": "datum.m"}],
      "mark": {"type": "point", "shape": "M-1,-0.8H1V0.8H-1Z", "size": 180, "filled": false, "strokeWidth": 1.4, "xOffset": 205.5},
      "encoding": {
        "x": {"field": "lr", "type": "quantitative"},
        "y": {"field": "lx", "type": "quantitative"},
        "color": {"field": "s", "type": "nominal", "legend": null}
      }
    },
    {
      "data": {"name": "legend"},
      "transform": [{"filter": "datum.m"}],
      "mark": {"type": "point", "shape": "M-1,-0.8H1V0.8H-1Z", "size": 180, "filled": false, "strokeWidth": 1.4, "xOffset": 237},
      "encoding": {
        "x": {"field": "lr", "type": "quantitative"},
        "y": {"field": "lx", "type": "quantitative"},
        "color": {"field": "s", "type": "nominal", "legend": null}
      }
    }
  ]
}
